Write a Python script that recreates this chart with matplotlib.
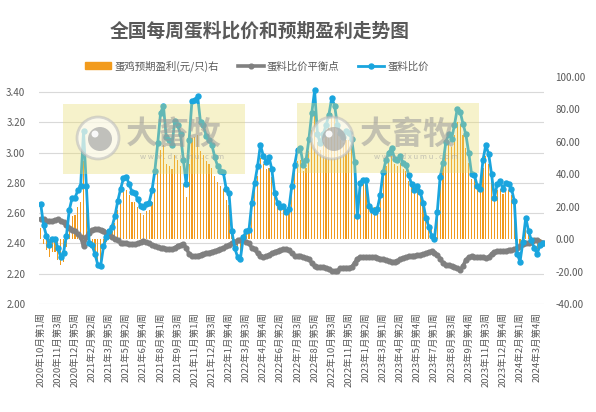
import numpy as np
import matplotlib
matplotlib.use('Agg')
import matplotlib.pyplot as plt
from matplotlib.patches import Rectangle, Circle, Patch
from matplotlib.lines import Line2D

plt.rcParams['font.family'] = ['Noto Sans CJK SC', 'DejaVu Sans']

# 蛋料比价
ratio = [2.66, 2.52, 2.45, 2.39, 2.43, 2.43, 2.37, 2.31, 2.34, 2.45,
         2.62, 2.70, 2.70, 2.75, 2.78, 3.14, 2.78, 2.40, 2.39, 2.33,
         2.26, 2.25, 2.38, 2.44, 2.48, 2.51, 2.58, 2.68, 2.76, 2.83,
         2.84, 2.79, 2.74, 2.73, 2.69, 2.65, 2.64, 2.66, 2.67, 2.75,
         2.88, 3.06, 3.26, 3.31, 3.10, 3.08, 3.05, 3.21, 3.18, 3.12,
         2.95, 2.79, 3.08, 3.34, 3.35, 3.37, 3.20, 3.18, 3.11, 3.08,
         3.05, 2.97, 2.91, 2.88, 2.87, 2.76, 2.73, 2.48, 2.37, 2.31,
         2.30, 2.44, 2.48, 2.49, 2.67, 2.80, 2.91, 3.05, 2.98, 2.94,
         2.97, 2.89, 2.73, 2.67, 2.64, 2.65, 2.61, 2.63, 2.78, 2.92,
         3.02, 3.03, 2.92, 2.95, 3.09, 3.26, 3.41, 3.12, 3.06, 3.12,
         3.18, 3.25, 3.36, 3.31, 3.18, 3.13, 3.10, 3.14, 3.13, 3.09,
         2.94, 2.58, 2.80, 2.82, 2.82, 2.65, 2.62, 2.61, 2.63, 2.72,
         2.87, 2.95, 3.00, 3.03, 2.96, 2.95, 2.98, 2.93, 2.92, 2.85,
         2.79, 2.75, 2.78, 2.74, 2.67, 2.57, 2.51, 2.45, 2.43, 2.61,
         2.84, 2.93, 3.07, 3.12, 3.09, 3.18, 3.29, 3.27, 3.19, 3.12,
         3.00, 2.86, 2.85, 2.78, 2.76, 2.95, 3.05, 2.99, 2.86, 2.70,
         2.79, 2.81, 2.76, 2.80, 2.79, 2.76, 2.68, 2.33, 2.28, 2.41,
         2.57, 2.48, 2.42, 2.37, 2.33, 2.39, 2.40]

# 蛋料比价平衡点
balance = [2.56, 2.56, 2.55, 2.55, 2.545, 2.555, 2.56, 2.55, 2.54, 2.52,
           2.505, 2.49, 2.48, 2.46, 2.445, 2.38, 2.44, 2.47, 2.49, 2.495,
           2.495, 2.49, 2.485, 2.47, 2.455, 2.44, 2.43, 2.42, 2.405, 2.40,
           2.40, 2.395, 2.395, 2.395, 2.40, 2.41, 2.415, 2.41, 2.40, 2.39,
           2.385, 2.375, 2.37, 2.37, 2.365, 2.36, 2.36, 2.37, 2.385, 2.39,
           2.395, 2.37, 2.33, 2.315, 2.315, 2.32, 2.325, 2.33, 2.335, 2.34,
           2.345, 2.35, 2.355, 2.36, 2.37, 2.38, 2.39, 2.40, 2.41, 2.42,
           2.42, 2.42, 2.41, 2.40, 2.37, 2.36, 2.335, 2.32, 2.31, 2.315,
           2.325, 2.335, 2.345, 2.35, 2.355, 2.36, 2.36, 2.355, 2.335, 2.32,
           2.315, 2.315, 2.31, 2.305, 2.30, 2.27, 2.25, 2.245, 2.245, 2.245,
           2.24, 2.23, 2.215, 2.215, 2.22, 2.235, 2.24, 2.24, 2.24, 2.245,
           2.27, 2.30, 2.31, 2.31, 2.31, 2.31, 2.31, 2.31, 2.305, 2.30,
           2.295, 2.29, 2.285, 2.28, 2.28, 2.285, 2.295, 2.305, 2.31, 2.315,
           2.318, 2.32, 2.322, 2.325, 2.33, 2.335, 2.345, 2.348, 2.34, 2.325,
           2.30, 2.27, 2.26, 2.255, 2.25, 2.245, 2.235, 2.226, 2.25, 2.29,
           2.31, 2.315, 2.312, 2.31, 2.31, 2.308, 2.303, 2.31, 2.33, 2.345,
           2.347, 2.348, 2.35, 2.352, 2.355, 2.357, 2.36, 2.37, 2.385, 2.395,
           2.40, 2.405, 2.41, 2.42, 2.42, 2.41, 2.40]

# 蛋鸡预期盈利(元/只)
profit = [7, -3, -7, -11, -8, -8, -13, -16, -14, -5,
          8, 14, 15, 20, 23, 48, 23, -5, -7, -11,
          -16, -16, -7, -2, 2, 5, 10, 18, 24, 29,
          30, 27, 23, 23, 20, 16, 15, 17, 18, 23,
          31, 42, 55, 58, 46, 45, 43, 52, 49, 45,
          34, 26, 46, 62, 63, 64, 54, 52, 48, 46,
          44, 39, 35, 33, 31, 24, 21, 5, -3, -7,
          -8, 1, 5, 6, 20, 30, 39, 50, 46, 43,
          44, 38, 26, 22, 19, 20, 17, 19, 30, 41,
          48, 49, 42, 44, 54, 67, 79, 60, 55, 60,
          64, 69, 78, 75, 65, 61, 59, 61, 61, 58,
          46, 19, 33, 35, 35, 23, 21, 20, 22, 29,
          39, 45, 49, 51, 46, 45, 47, 43, 42, 36,
          32, 29, 31, 28, 23, 16, 11, 7, 6, 19,
          37, 45, 55, 59, 57, 64, 72, 71, 64, 56,
          47, 37, 37, 32, 31, 44, 51, 46, 36, 24,
          30, 31, 28, 31, 30, 27, 22, -3, -7, 1,
          12, 5, 1, -3, -6, -1, 0]

week_labels = ['2020年10月第1周', '2020年11月第3周', '2020年12月第5周', '2021年2月第2周',
               '2021年3月第5周', '2021年5月第2周', '2021年6月第4周', '2021年8月第1周',
               '2021年9月第3周', '2021年11月第1周', '2021年12月第3周', '2022年1月第4周',
               '2022年3月第3周', '2022年4月第4周', '2022年6月第2周', '2022年7月第3周',
               '2022年8月第5周', '2022年10月第3周', '2022年11月第5周', '2023年1月第2周',
               '2023年3月第1周', '2023年4月第2周', '2023年5月第4周', '2023年7月第1周',
               '2023年8月第3周', '2023年9月第4周', '2023年11月第3周', '2023年12月第4周',
               '2024年2月第1周', '2024年3月第4周']

left_ticks = [2.00, 2.20, 2.40, 2.60, 2.80, 3.00, 3.20, 3.40]
right_ticks = [-40, -20, 0, 20, 40, 60, 80, 100]

W, H = 596, 412
TXT = '#595959'
ORANGE = '#F29B1D'
GRAY = '#808080'
BLUE = '#1AA5DE'

fig = plt.figure(figsize=(W / 100, H / 100), dpi=100)
ax = fig.add_axes([39.3 / W, 1 - 304 / H, 505 / W, (304 - 76.8) / H])

x = np.arange(len(ratio))
ax.set_xlim(-0.5, len(ratio) - 0.5)
ax.set_ylim(2.0, 3.5)
ax.set_yticks(left_ticks)
ax.set_yticklabels([f'{v:.2f}' for v in left_ticks])
ax.set_xticks(x[::6])
ax.set_xticklabels(week_labels, rotation=90)
ax.grid(axis='y', color='#D9D9D9', lw=0.8)
ax.tick_params(axis='y', length=0, colors=TXT, labelsize=7, pad=10)
ax.tick_params(axis='x', length=0, colors=TXT, labelsize=6.8, pad=6)
for s in ax.spines.values():
    s.set_visible(False)

# 盈利柱 (右轴)
axb = ax.twinx()
axb.bar(x, profit, width=0.4, color=ORANGE, linewidth=0)
axb.set_ylim(-40, 100)
axb.set_yticks(right_ticks)
axb.set_yticklabels([f'{v:.2f}' for v in right_ticks])
axb.tick_params(axis='y', length=0, colors=TXT, labelsize=7, pad=8)
for s in axb.spines.values():
    s.set_visible(False)

# 比价线 (左轴刻度)
axl = ax.twinx()
axl.set_ylim(2.0, 3.5)
axl.yaxis.set_visible(False)
for s in axl.spines.values():
    s.set_visible(False)
axl.plot(x, balance, color=GRAY, lw=2.6, marker='o', ms=3.4, zorder=2)
axl.plot(x, ratio, color=BLUE, lw=2.0, marker='o', ms=3.6, zorder=3)

fig.text(260 / W, 1 - 31 / H, '全国每周蛋料比价和预期盈利走势图',
         ha='center', va='center', fontsize=13.5, fontweight='bold', color=TXT)

handles = [Patch(color=ORANGE),
           Line2D([], [], color=GRAY, lw=2.6, marker='o', ms=3.4),
           Line2D([], [], color=BLUE, lw=2.0, marker='o', ms=3.6)]
fig.legend(handles, ['蛋鸡预期盈利(元/只)右', '蛋料比价平衡点', '蛋料比价'],
           loc='center', bbox_to_anchor=(257 / W, 1 - 66 / H), ncol=3,
           frameon=False, fontsize=7.5, handlelength=2.5, handletextpad=0.3,
           columnspacing=1.8, labelcolor=TXT)

# 水印
def px(xp, yp):
    return (xp / 100, (H - yp) / 100)

for x0, x1, y0, y1, cx in [(63, 245, 104, 174, 98), (297, 479, 103, 173, 332)]:
    fig.add_artist(Rectangle(px(x0, y1), (x1 - x0) / 100, (y1 - y0) / 100,
                             transform=fig.dpi_scale_trans, facecolor='#E8DC6A',
                             alpha=0.35, edgecolor='none', zorder=10))
    fig.add_artist(Circle(px(cx, 138), 0.21, transform=fig.dpi_scale_trans,
                          facecolor='white', edgecolor='#BDBDBD', lw=2,
                          alpha=0.6, zorder=11))
    fig.add_artist(Circle(px(cx + 2, 139), 0.12, transform=fig.dpi_scale_trans,
                          facecolor='#A8A8A8', alpha=0.7, zorder=12))
    fig.add_artist(Circle(px(cx - 3, 134), 0.035, transform=fig.dpi_scale_trans,
                          facecolor='white', alpha=0.9, zorder=13))
    fig.text((cx + 28) / W, 1 - 135 / H, '大畜牧', ha='left', va='center',
             fontsize=23, fontweight='bold', color='#9A9A9A', alpha=0.55, zorder=12)
    fig.text((cx + 42) / W, 1 - 157 / H, 'w w w . d x u m u . c o m', ha='left',
             va='center', fontsize=5.5, color='#A0A0A0', alpha=0.6, zorder=12)

fig.savefig('out.png', dpi=100)
